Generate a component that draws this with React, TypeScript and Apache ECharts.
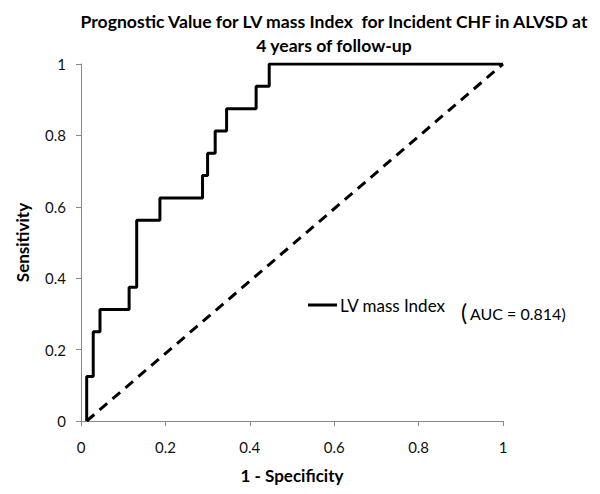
import React, { useEffect, useRef } from "react";
import * as echarts from "echarts";

const rocX = [0.0135, 0.0135, 0.029, 0.029, 0.045, 0.045, 0.114, 0.114, 0.132, 0.132, 0.187, 0.187, 0.288, 0.288, 0.3, 0.3, 0.318, 0.318, 0.345, 0.345, 0.415, 0.415, 0.446, 0.446, 1.0];
const rocY = [0, 0.125, 0.125, 0.25, 0.25, 0.3125, 0.3125, 0.375, 0.375, 0.5625, 0.5625, 0.625, 0.625, 0.6875, 0.6875, 0.75, 0.75, 0.8125, 0.8125, 0.875, 0.875, 0.9375, 0.9375, 1, 1];
const refX = [0.0135, 1.0];
const refY = [0, 1];
const yTicks = [0, 0.2, 0.4, 0.6, 0.8, 1];
const xTicks = [0, 0.2, 0.4, 0.6, 0.8, 1];

const FONT = "Lato, 'Open Sans', sans-serif";

export default function App() {
  const ref = useRef<HTMLDivElement>(null);
  useEffect(() => {
    if (!ref.current) return;
    const chart = echarts.init(ref.current, null, { renderer: "svg" });
    chart.setOption({
      animation: false,
      backgroundColor: "#ffffff",
      title: {
        text: "Prognostic Value for LV mass Index  for Incident CHF in ALVSD at\n4 years of follow-up",
        left: 329,
        top: 4,
        textAlign: "center",
        textStyle: { fontFamily: FONT, fontWeight: "bold", fontSize: 17.6, color: "#000", lineHeight: 24 },
      },
      grid: { left: 81, right: 97, top: 64, bottom: 73, containLabel: false },
      xAxis: {
        type: "value",
        min: 0,
        max: 1,
        interval: 0.2,
        name: "1 - Specificity",
        nameLocation: "middle",
        nameGap: 46,
        nameTextStyle: { fontFamily: FONT, fontWeight: "bold", fontSize: 17, color: "#000" },
        axisLine: { show: true, lineStyle: { color: "#888", width: 1 } },
        axisTick: { show: true, length: 5, lineStyle: { color: "#888" } },
        splitLine: { show: false },
        axisLabel: {
          fontFamily: FONT, fontSize: 15, color: "#111", margin: 18,
          formatter: (v: number) => (xTicks.some((t) => Math.abs(t - v) < 1e-9) ? String(+v.toFixed(1)) : ""),
        },
      },
      yAxis: {
        type: "value",
        min: 0,
        max: 1,
        interval: 0.2,
        name: "Sensitivity",
        nameLocation: "middle",
        nameGap: 50,
        nameTextStyle: { fontFamily: FONT, fontWeight: "bold", fontSize: 17, color: "#000" },
        axisLine: { show: true, lineStyle: { color: "#888", width: 1 } },
        axisTick: { show: true, length: 5, lineStyle: { color: "#888" } },
        splitLine: { show: false },
        axisLabel: {
          fontFamily: FONT, fontSize: 15, color: "#111", margin: 15,
          formatter: (v: number) => (yTicks.some((t) => Math.abs(t - v) < 1e-9) ? String(+v.toFixed(1)) : ""),
        },
      },
      series: [
        {
          type: "line",
          name: "LV mass Index",
          data: rocX.map((x, i) => [x, rocY[i]]),
          showSymbol: false,
          smooth: 0.7,
          lineStyle: { color: "#000", width: 3 },
          z: 3,
        },
        {
          type: "line",
          name: "Reference",
          data: refX.map((x, i) => [x, refY[i]]),
          showSymbol: false,
          lineStyle: { color: "#000", width: 3, type: [10, 7] },
          z: 2,
        },
      ],
      graphic: [
        { type: "line", shape: { x1: 308, y1: 305, x2: 337, y2: 305 }, style: { stroke: "#000", lineWidth: 3 } },
        { type: "text", x: 340, y: 305, style: { text: "LV mass Index", font: `17px ${FONT}`, fill: "#000", textVerticalAlign: "middle" } },
        { type: "text", x: 461, y: 312, style: { text: "(", font: `23px ${FONT}`, fill: "#000", textVerticalAlign: "middle" } },
        { type: "text", x: 470, y: 313, style: { text: "AUC = 0.814)", font: `16px ${FONT}`, fill: "#000", textVerticalAlign: "middle" } },
      ],
    });
    return () => chart.dispose();
  }, []);
  return <div ref={ref} style={{ width: 600, height: 494, margin: -8 }} />;
}
